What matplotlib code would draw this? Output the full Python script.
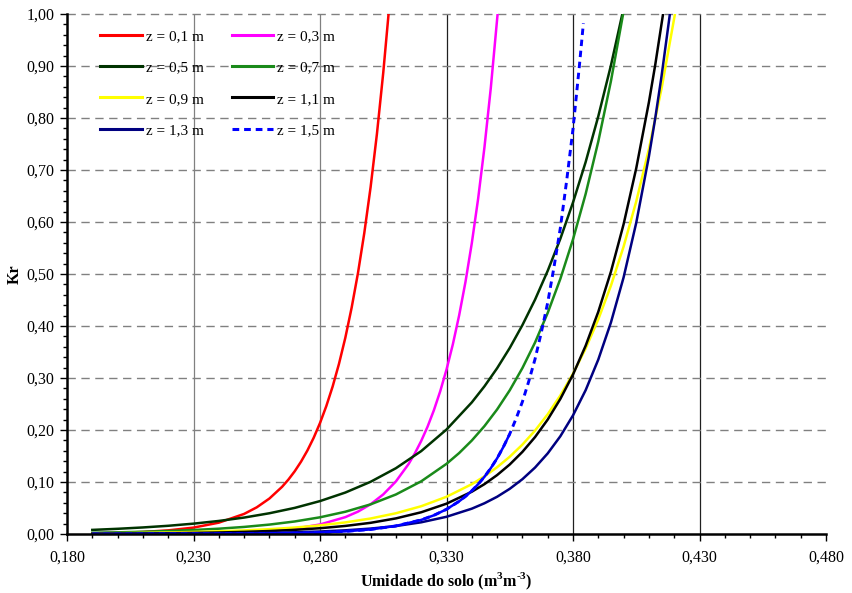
import matplotlib
matplotlib.use("Agg")
import matplotlib.pyplot as plt
from matplotlib.ticker import MultipleLocator, FuncFormatter
import numpy as np

plt.rcParams['font.family'] = ['Liberation Serif', 'DejaVu Serif']
plt.rcParams['mathtext.fontset'] = 'custom'
plt.rcParams['mathtext.rm'] = 'Liberation Serif'
plt.rcParams['mathtext.bf'] = 'Liberation Serif:bold'

# ---- data ----
x_01 = [0.19, 0.20, 0.21, 0.22, 0.23, 0.24, 0.25, 0.255, 0.26, 0.265, 0.2675, 0.27, 0.2725,
        0.275, 0.2775, 0.28, 0.2825, 0.285, 0.2875, 0.29, 0.2925, 0.295, 0.2975, 0.30,
        0.3025, 0.305, 0.3071]
kr_01 = [0.0013, 0.0022, 0.0039, 0.0070, 0.0123, 0.0218, 0.0386, 0.0513, 0.0682, 0.0907,
         0.1046, 0.1206, 0.1391, 0.1604, 0.1850, 0.2134, 0.2461, 0.2837, 0.3272, 0.3772,
         0.4351, 0.5016, 0.5786, 0.6670, 0.7694, 0.8871, 1.0]

x_03 = [0.19, 0.20, 0.21, 0.22, 0.23, 0.24, 0.25, 0.26, 0.27, 0.28, 0.29, 0.295, 0.30,
        0.305, 0.31, 0.315, 0.3175, 0.32, 0.3225, 0.325, 0.3275, 0.33, 0.3325, 0.335,
        0.3375, 0.34, 0.3425, 0.345, 0.3475, 0.3502]
kr_03 = [0.0001, 0.0002, 0.0003, 0.0006, 0.0011, 0.0019, 0.0033, 0.0059, 0.0103, 0.0183,
         0.0324, 0.0430, 0.0572, 0.0761, 0.1011, 0.1345, 0.1551, 0.1789, 0.2062, 0.2378,
         0.2742, 0.3162, 0.3646, 0.4205, 0.4848, 0.5592, 0.6447, 0.7436, 0.8573, 1.0]

x_05 = [0.19, 0.20, 0.21, 0.22, 0.23, 0.24, 0.25, 0.26, 0.27, 0.28, 0.29, 0.30, 0.31,
        0.32, 0.33, 0.34, 0.345, 0.35, 0.355, 0.36, 0.365, 0.37, 0.375, 0.38, 0.385,
        0.39, 0.395, 0.3995]
kr_05 = [0.0079, 0.0100, 0.0126, 0.0158, 0.0199, 0.0251, 0.0316, 0.0399, 0.0502, 0.0633,
         0.0797, 0.1004, 0.1265, 0.1594, 0.2009, 0.2531, 0.2840, 0.3188, 0.3578, 0.4017,
         0.4507, 0.5061, 0.5678, 0.6376, 0.7153, 0.8033, 0.9013, 1.0]

x_07 = [0.19, 0.20, 0.21, 0.22, 0.23, 0.24, 0.25, 0.26, 0.27, 0.28, 0.29, 0.30, 0.31,
        0.32, 0.33, 0.335, 0.34, 0.345, 0.35, 0.355, 0.36, 0.365, 0.37, 0.375, 0.38,
        0.385, 0.39, 0.395, 0.3998]
kr_07 = [0.0024, 0.0032, 0.0043, 0.0057, 0.0077, 0.0102, 0.0136, 0.0181, 0.0241, 0.0321,
         0.0428, 0.0570, 0.0760, 0.1013, 0.1349, 0.1557, 0.1798, 0.2075, 0.2395, 0.2764,
         0.3191, 0.3683, 0.4252, 0.4907, 0.5666, 0.6540, 0.7549, 0.8711, 1.0]

x_09 = [0.19, 0.20, 0.21, 0.22, 0.23, 0.24, 0.25, 0.26, 0.27, 0.28, 0.29, 0.30, 0.31,
        0.32, 0.33, 0.34, 0.345, 0.35, 0.355, 0.36, 0.365, 0.37, 0.375, 0.38, 0.385,
        0.39, 0.395, 0.40, 0.405, 0.41, 0.415, 0.4203]
kr_09 = [0.0012, 0.0016, 0.0022, 0.0029, 0.0039, 0.0052, 0.0069, 0.0093, 0.0124, 0.0166,
         0.0223, 0.0298, 0.0399, 0.0534, 0.0716, 0.0958, 0.1109, 0.1284, 0.1486, 0.1719,
         0.1989, 0.2302, 0.2664, 0.3083, 0.3567, 0.4128, 0.4777, 0.5527, 0.6396, 0.7402,
         0.8566, 1.0]

x_11 = [0.19, 0.20, 0.21, 0.22, 0.23, 0.24, 0.25, 0.26, 0.27, 0.28, 0.29, 0.30, 0.31,
        0.32, 0.33, 0.34, 0.345, 0.35, 0.355, 0.36, 0.365, 0.37, 0.375, 0.38, 0.385,
        0.39, 0.395, 0.40, 0.405, 0.41, 0.4125, 0.4156]
kr_11 = [0.0006, 0.0008, 0.0011, 0.0015, 0.0021, 0.0029, 0.0041, 0.0057, 0.0080, 0.0111,
         0.0155, 0.0215, 0.0300, 0.0418, 0.0583, 0.0813, 0.0959, 0.1133, 0.1337, 0.1579,
         0.1864, 0.2201, 0.2598, 0.3067, 0.3621, 0.4274, 0.5046, 0.5957, 0.7034, 0.8303,
         0.9021, 1.0]

x_13 = [0.19, 0.20, 0.21, 0.22, 0.23, 0.24, 0.25, 0.26, 0.27, 0.28, 0.29, 0.30, 0.31,
        0.32, 0.33, 0.34, 0.345, 0.35, 0.355, 0.36, 0.365, 0.37, 0.375, 0.38, 0.385,
        0.39, 0.395, 0.40, 0.405, 0.41, 0.4125, 0.415, 0.4183]
kr_13 = [0.0002, 0.0002, 0.0003, 0.0005, 0.0007, 0.0010, 0.0015, 0.0022, 0.0033, 0.0048,
         0.0071, 0.0104, 0.0153, 0.0225, 0.0331, 0.0487, 0.0591, 0.0716, 0.0869, 0.1054,
         0.1278, 0.1550, 0.1880, 0.2281, 0.2766, 0.3355, 0.4069, 0.4935, 0.5986, 0.7260,
         0.7994, 0.8806, 1.0]

x_15 = [0.19, 0.20, 0.21, 0.22, 0.23, 0.24, 0.25, 0.26, 0.27, 0.28, 0.29, 0.30, 0.31,
        0.32, 0.325, 0.33, 0.335, 0.3375, 0.34, 0.3425, 0.345, 0.3475, 0.35, 0.3525,
        0.355, 0.3575, 0.36, 0.3625, 0.365, 0.3675, 0.37, 0.3725, 0.375, 0.3775, 0.38,
        0.3825, 0.3841]
kr_15 = [0.0000, 0.0000, 0.0001, 0.0001, 0.0002, 0.0003, 0.0005, 0.0009, 0.0017, 0.0029,
         0.0051, 0.0088, 0.0155, 0.0271, 0.0359, 0.0475, 0.0629, 0.0723, 0.0831, 0.0957,
         0.1100, 0.1266, 0.1455, 0.1676, 0.1925, 0.2218, 0.2543, 0.2934, 0.3364, 0.3882,
         0.4449, 0.5137, 0.5886, 0.6797, 0.7789, 0.8992, 0.9820]

labels = ['z = 0,1 m', 'z = 0,3 m', 'z = 0,5 m', 'z = 0,7 m',
          'z = 0,9 m', 'z = 1,1 m', 'z = 1,3 m', 'z = 1,5 m']
colors = ['#ff0000', '#ff00ff', '#003300', '#1a8a1a',
          '#ffff00', '#000000', '#000080', '#0000ff']

xs = [x_01, x_03, x_05, x_07, x_09, x_11, x_13, x_15]
ys = [kr_01, kr_03, kr_05, kr_07, kr_09, kr_11, kr_13, kr_15]

xticks = [0.18, 0.23, 0.28, 0.33, 0.38, 0.43, 0.48]
yticks = [0.0, 0.1, 0.2, 0.3, 0.4, 0.5, 0.6, 0.7, 0.8, 0.9, 1.0]

# ---- figure ----
fig = plt.figure(figsize=(8.52, 5.93), dpi=100)
ax = fig.add_axes([67/852, 1-534/593, (826-67)/852, (534-14)/593])

# grid
vcols = ['#808080', '#808080', '#202020', '#202020', '#202020']
for xv, vc in zip(xticks[1:-1], vcols):
    ax.axvline(xv, color=vc, lw=0.9, zorder=0)
for yv in yticks[1:]:
    ax.axhline(yv, color='#808080', lw=1.0, ls=(0, (6, 4)), zorder=0, clip_on=False)

handles = []
for i, (xx, yy) in enumerate(zip(xs, ys)):
    if i == 7:
        xa = np.array(xx); ya = np.array(yy)
        h, = ax.plot(xa, ya, color=colors[i], lw=2.1, ls=(0, (2.2, 1.6)), label=labels[i])
        m = xa <= 0.355
        ax.plot(xa[m], ya[m], color=colors[i], lw=1.8, solid_capstyle='butt')
    else:
        h, = ax.plot(xx, yy, color=colors[i], lw=1.8, label=labels[i], solid_joinstyle='round')
    handles.append(h)

ax.set_xlim(0.18, 0.48)
ax.set_ylim(0.0, 1.0)
ax.set_xticks(xticks)
ax.set_yticks(yticks)
ax.xaxis.set_minor_locator(MultipleLocator(0.01))
ax.yaxis.set_minor_locator(MultipleLocator(0.02))
ax.xaxis.set_major_formatter(FuncFormatter(lambda v, p: f"{v:.3f}".replace('.', ',')))
ax.yaxis.set_major_formatter(FuncFormatter(lambda v, p: f"{v:.2f}".replace('.', ',')))
ax.tick_params(which='major', direction='out', length=5, width=1.0, labelsize=11.5, colors='black')
ax.tick_params(which='minor', direction='out', length=3, width=1.0)
ax.tick_params(axis='x', pad=6)
ax.tick_params(axis='y', pad=4)

for s in ['top', 'right']:
    ax.spines[s].set_visible(False)
for s in ['left', 'bottom']:
    ax.spines[s].set_linewidth(1.8)
    ax.spines[s].set_color('black')

ax.set_xlabel(r'Umidade do solo (m$^{\mathbf{3}}$m$^{\mathbf{\text{-}3}}$)', fontsize=11.5,
              fontweight='bold', labelpad=4)
ax.set_ylabel('Kr', fontsize=11.5, fontweight='bold', labelpad=3)

order = [0, 2, 4, 6, 1, 3, 5, 7]
leg = ax.legend(handles=[handles[k] for k in order], ncol=2, loc='upper left',
                bbox_to_anchor=(0.044, 0.970),
                frameon=False, fontsize=11, handlelength=2.7, handletextpad=0.3,
                columnspacing=1.8, labelspacing=1.15, borderpad=0, borderaxespad=0)
for lh in leg.get_lines():
    lh.set_linewidth(2.2)

fig.savefig('out.png', dpi=100)
